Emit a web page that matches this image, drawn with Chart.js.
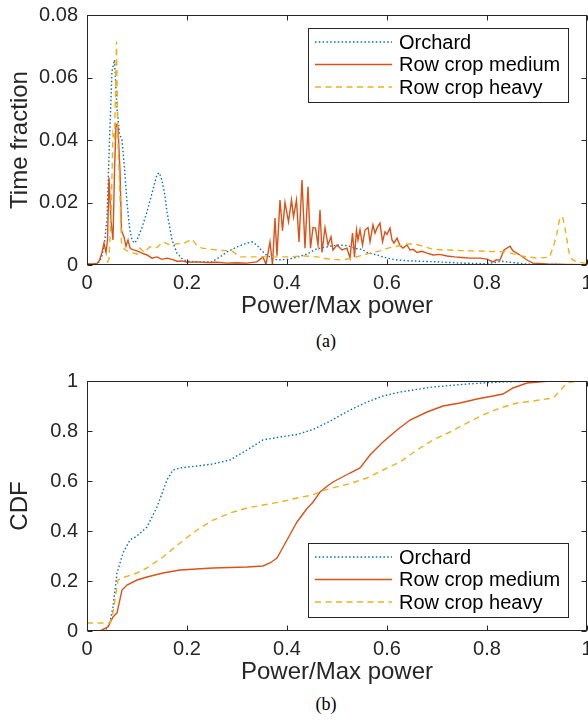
<!DOCTYPE html>
<html>
<head>
<meta charset="utf-8">
<script src="https://cdn.jsdelivr.net/npm/chart.js@4.4.0/dist/chart.umd.min.js"></script>
<style>
  html, body { margin: 0; padding: 0; background: #fff; }
  #fig { position: relative; width: 588px; height: 720px; background: #fff; overflow: hidden; }
  canvas { position: absolute; left: 0; }
  #cvA { top: 0; }
  #cvB { top: 366px; }
  .cap { position: absolute; width: 100px; text-align: center; line-height: 20px;
         font: 18px "Liberation Serif", "Times New Roman", serif; color: #000; }
</style>
</head>
<body>
<div id="fig">
  <canvas id="cvA" width="588" height="325"></canvas>
  <div class="cap" style="left:276px; top:331px;">(a)</div>
  <canvas id="cvB" width="588" height="324"></canvas>
  <div class="cap" style="left:276px; top:694px;">(b)</div>
</div>
<script>
const seriesNames = ['Orchard', 'Row crop medium', 'Row crop heavy'];
const seriesColors = ['#0072BD', '#D95319', '#EDB120'];

const xTickLabels = ['0', '0.2', '0.4', '0.6', '0.8', '1'];
const fracTickLabels = ['0', '0.02', '0.04', '0.06', '0.08'];
const cdfTickLabels = ['0', '0.2', '0.4', '0.6', '0.8', '1'];

// (a) time fraction per power bin
const orchardX = [0, 0.01, 0.02, 0.025, 0.03, 0.035, 0.04, 0.045, 0.05, 0.055, 0.06, 0.065, 0.07, 0.075,
  0.08, 0.085, 0.09, 0.095, 0.10, 0.11, 0.12, 0.13, 0.14, 0.145, 0.15, 0.155, 0.16, 0.17, 0.18, 0.19,
  0.20, 0.22, 0.25, 0.27, 0.28, 0.30, 0.32, 0.33, 0.34, 0.35, 0.36, 0.38, 0.40, 0.42, 0.44, 0.46,
  0.48, 0.50, 0.52, 0.54, 0.55, 0.56, 0.58, 0.60, 0.62, 0.65, 0.70, 0.75, 0.80, 0.83, 0.85, 0.88,
  0.92, 0.96, 1.0];
const orchardFrac = [0, 0, 0.0005, 0.001, 0.003, 0.007, 0.015, 0.04, 0.062, 0.0656, 0.05, 0.042, 0.040, 0.031,
  0.020, 0.012, 0.008, 0.007, 0.008, 0.012, 0.017, 0.023, 0.029, 0.0295, 0.027, 0.023, 0.017, 0.008, 0.0038, 0.002,
  0.0012, 0.001, 0.001, 0.003, 0.0042, 0.0058, 0.007, 0.0074, 0.0064, 0.0045, 0.003, 0.0016, 0.0018, 0.0025, 0.0035, 0.0052,
  0.0058, 0.0064, 0.0062, 0.0052, 0.005, 0.004, 0.0032, 0.0022, 0.0016, 0.0013, 0.001, 0.0006, 0.0004, 0.0012, 0.0008, 0.0003,
  0.0002, 0.0001, 0];

const mediumX = [0, 0.01, 0.02, 0.025, 0.03, 0.034, 0.038, 0.041, 0.044, 0.048, 0.052, 0.055, 0.058, 0.062,
  0.066, 0.069, 0.074, 0.078, 0.082, 0.086, 0.09, 0.10, 0.11, 0.12, 0.13, 0.14, 0.15, 0.16, 0.17, 0.18,
  0.19, 0.20, 0.22, 0.24, 0.26, 0.28, 0.30, 0.32, 0.34, 0.352, 0.358, 0.366, 0.371, 0.376, 0.38, 0.386,
  0.391, 0.396, 0.403, 0.409, 0.413, 0.419, 0.424, 0.43, 0.436, 0.442, 0.447, 0.452, 0.457, 0.462, 0.466,
  0.47, 0.476, 0.482, 0.488, 0.492, 0.5, 0.51, 0.52, 0.526, 0.531, 0.535, 0.539, 0.542, 0.546, 0.551,
  0.556, 0.562, 0.566, 0.572, 0.576, 0.58, 0.586, 0.591, 0.596, 0.6, 0.606, 0.61, 0.614, 0.62, 0.626,
  0.632, 0.64, 0.646, 0.652, 0.66, 0.67, 0.68, 0.692, 0.705, 0.72, 0.735, 0.75, 0.766, 0.786, 0.8,
  0.812, 0.818, 0.826, 0.834, 0.846, 0.852, 0.866, 0.88, 0.892, 0.92, 0.96, 1.0];
const mediumFrac = [0.0004, 0.0003, 0.0005, 0.0015, 0.004, 0.007, 0.004, 0.008, 0.028, 0.014, 0.008, 0.03, 0.045, 0.044,
  0.03, 0.011, 0.009, 0.006, 0.008, 0.0055, 0.005, 0.0045, 0.0038, 0.0032, 0.0022, 0.0026, 0.0018, 0.0022, 0.0018, 0.0012,
  0.0013, 0.0009, 0.001, 0.0008, 0.0009, 0.0006, 0.0007, 0.0006, 0.001, 0.0026, 0.0002, 0.0074, 0, 0.015, 0.003, 0.0208,
  0.011, 0.020, 0.0138, 0.0208, 0.0154, 0.0208, 0.0074, 0.0272, 0.0054, 0.025, 0.0054, 0.012, 0.0118, 0.0064, 0.0176,
  0.004, 0.012, 0.0064, 0.009, 0.0048, 0.0064, 0.0048, 0.0054, 0.0022, 0.0102, 0.0026, 0.0112, 0.008, 0.0112, 0.0064,
  0.0112, 0.012, 0.0074, 0.0128, 0.0102, 0.0118, 0.0134, 0.0074, 0.0106, 0.0098, 0.0118, 0.008, 0.007, 0.0086, 0.0062,
  0.0054, 0.0064, 0.0048, 0.005, 0.004, 0.0044, 0.0038, 0.0032, 0.0034, 0.0029, 0.0026, 0.0024, 0.0022, 0.0022, 0.0019,
  0.001, 0.0016, 0.0016, 0.0048, 0.006, 0.0045, 0.0032, 0.0016, 0.0006, 0.0003, 0.0002, 0.0001];

const heavyX = [0, 0.03, 0.04, 0.044, 0.048, 0.052, 0.055, 0.059, 0.062, 0.066, 0.069, 0.075, 0.08, 0.09,
  0.10, 0.106, 0.115, 0.125, 0.14, 0.152, 0.166, 0.18, 0.195, 0.21, 0.22, 0.23, 0.25, 0.265, 0.29, 0.306,
  0.32, 0.35, 0.40, 0.436, 0.46, 0.48, 0.51, 0.53, 0.546, 0.566, 0.586, 0.602, 0.62, 0.64, 0.655, 0.672,
  0.692, 0.72, 0.75, 0.78, 0.81, 0.84, 0.86, 0.88, 0.9, 0.925, 0.933, 0.94, 0.946, 0.952, 0.958, 0.964,
  0.97, 0.98, 1.0];
const heavyFrac = [0, 0, 0.0005, 0.002, 0.015, 0.042, 0.04, 0.0715, 0.039, 0.0218, 0.007, 0.005, 0.0045, 0.004,
  0.0035, 0.0054, 0.004, 0.0058, 0.0056, 0.0074, 0.0064, 0.0068, 0.007, 0.0083, 0.0062, 0.0054, 0.005, 0.0047, 0.0045, 0.0026,
  0.0026, 0.0026, 0.0026, 0.0029, 0.0026, 0.002, 0.0016, 0.0022, 0.0029, 0.0038, 0.0045, 0.0054, 0.006, 0.0067, 0.0067, 0.006,
  0.005, 0.0048, 0.0046, 0.0045, 0.0043, 0.0042, 0.0032, 0.0026, 0.0022, 0.0025, 0.006, 0.0102, 0.0154, 0.015, 0.01, 0.004,
  0.0018, 0.001, 0.0005];

// (b) cumulative distribution
const orchardCdfX = [0, 0.03, 0.04, 0.046, 0.052, 0.06, 0.072, 0.086, 0.10, 0.12, 0.14, 0.16, 0.172, 0.186, 0.22,
  0.252, 0.286, 0.32, 0.352, 0.386, 0.42, 0.452, 0.482, 0.526, 0.56, 0.592, 0.626, 0.692, 0.76, 0.826, 0.9, 1.0];
const orchardCdf = [0, 0, 0.01, 0.036, 0.096, 0.232, 0.312, 0.364, 0.38, 0.416, 0.496, 0.604, 0.644, 0.652, 0.66,
  0.668, 0.684, 0.724, 0.764, 0.776, 0.786, 0.806, 0.835, 0.884, 0.916, 0.94, 0.956, 0.976, 0.988, 0.996, 1.0, 1.0];

const mediumCdfX = [0, 0.026, 0.042, 0.052, 0.06, 0.07, 0.08, 0.1, 0.12, 0.152, 0.186, 0.252, 0.32, 0.352, 0.366,
  0.38, 0.4, 0.42, 0.44, 0.452, 0.466, 0.482, 0.492, 0.526, 0.546, 0.566, 0.592, 0.62, 0.646, 0.68, 0.712,
  0.746, 0.78, 0.812, 0.832, 0.852, 0.88, 0.926, 1.0];
const mediumCdf = [0, 0, 0.016, 0.056, 0.072, 0.164, 0.184, 0.204, 0.216, 0.232, 0.244, 0.252, 0.256, 0.26, 0.272,
  0.292, 0.364, 0.436, 0.49, 0.515, 0.556, 0.582, 0.596, 0.632, 0.652, 0.704, 0.756, 0.804, 0.844, 0.876, 0.9,
  0.912, 0.928, 0.94, 0.948, 0.972, 0.992, 1.0, 1.0];

const heavyCdfX = [0, 0.046, 0.052, 0.062, 0.076, 0.1, 0.12, 0.152, 0.186, 0.22, 0.252, 0.286, 0.32, 0.352, 0.386,
  0.42, 0.452, 0.472, 0.526, 0.56, 0.592, 0.626, 0.66, 0.692, 0.726, 0.76, 0.792, 0.826, 0.86, 0.892, 0.932,
  0.942, 0.96, 0.98, 1.0];
const heavyCdf = [0.032, 0.032, 0.072, 0.204, 0.216, 0.232, 0.252, 0.296, 0.352, 0.404, 0.444, 0.472, 0.492, 0.504, 0.516,
  0.532, 0.544, 0.562, 0.59, 0.612, 0.644, 0.676, 0.724, 0.764, 0.796, 0.832, 0.864, 0.892, 0.912, 0.92, 0.932,
  0.952, 0.992, 1.0, 1.0];

const AXIS = '#262626';
const FONT = '"Liberation Sans", Arial, Helvetica, sans-serif';
const lineDash = [[1.5, 2.3], [], [6, 4.5]];

const pts = (xs, ys) => xs.map((x, i) => ({ x, y: ys[i] }));

function makeDatasets(pairs) {
  return pairs.map(([xs, ys], i) => ({
    label: seriesNames[i],
    data: pts(xs, ys),
    borderColor: seriesColors[i],
    borderWidth: 1.4,
    borderDash: lineDash[i],
    pointRadius: 0,
    tension: 0,
    fill: false,
    order: 3 - i   // heavy drawn last, on top
  }));
}

// boxed axes with inward ticks on all four sides, plus a legend box inside the plot
function framePlugin(legendAt) {
  return {
    id: 'frame',
    afterDraw(chart) {
      const { ctx, chartArea: a, scales } = chart;
      ctx.save();
      ctx.strokeStyle = AXIS;
      ctx.lineWidth = 1;
      ctx.setLineDash([]);
      const L = Math.round(a.left) + 0.5, R = Math.round(a.right) - 0.5;
      const T = Math.round(a.top) + 0.5, B = Math.round(a.bottom) - 0.5;
      ctx.strokeRect(L, T, R - L, B - T);
      ctx.beginPath();
      scales.x.ticks.forEach(t => {
        const px = Math.round(scales.x.getPixelForValue(t.value)) + 0.5;
        ctx.moveTo(px, B); ctx.lineTo(px, B - 5);
        ctx.moveTo(px, T); ctx.lineTo(px, T + 5);
      });
      scales.y.ticks.forEach(t => {
        const py = Math.round(scales.y.getPixelForValue(t.value)) + 0.5;
        ctx.moveTo(L, py); ctx.lineTo(L + 5, py);
        ctx.moveTo(R, py); ctx.lineTo(R - 5, py);
      });
      ctx.stroke();

      const w = 260, h = 74;
      const lx = Math.round(a.right - 19 - w);
      const ly = Math.round(legendAt === 'top' ? a.top + 13 : a.bottom - 14 - h);
      ctx.fillStyle = '#fff';
      ctx.fillRect(lx, ly, w, h);
      ctx.strokeRect(lx + 0.5, ly + 0.5, w, h);
      const rows = [14, 36.5, 59];
      ctx.font = '20px ' + FONT;
      ctx.textBaseline = 'middle';
      chart.data.datasets.forEach((ds, i) => {
        const y = ly + rows[i];
        ctx.strokeStyle = ds.borderColor;
        ctx.lineWidth = ds.borderWidth;
        ctx.setLineDash(ds.borderDash);
        ctx.beginPath();
        ctx.moveTo(lx + 7, y); ctx.lineTo(lx + 84, y);
        ctx.stroke();
        ctx.setLineDash([]);
        ctx.fillStyle = '#000';
        ctx.fillText(ds.label, lx + 91, y + 1);
      });
      ctx.restore();
    }
  };
}

function makeChart(id, datasets, yMax, yStep, yLabels, yTitle, axisH, titlePadB, legendAt) {
  return new Chart(document.getElementById(id), {
    type: 'line',
    data: { datasets },
    options: {
      responsive: false,
      devicePixelRatio: 1,
      animation: false,
      events: [],
      layout: { padding: { top: 15, right: 1, bottom: 0, left: 0 } },
      plugins: { legend: { display: false }, tooltip: { enabled: false } },
      scales: {
        x: {
          type: 'linear', min: 0, max: 1,
          grid: { display: false, drawTicks: false },
          border: { display: false },
          ticks: {
            stepSize: 0.2, padding: 6, color: AXIS, maxRotation: 0, autoSkip: false,
            font: { family: FONT, size: 20 },
            callback: (v, i) => xTickLabels[i]
          },
          title: {
            display: true, text: 'Power/Max power', color: AXIS,
            font: { family: FONT, size: 24 }, padding: { top: 0, bottom: titlePadB }
          },
          afterFit: s => { s.height = axisH; s.paddingLeft = 0; s.paddingRight = 0; }
        },
        y: {
          min: 0, max: yMax,
          grid: { display: false, drawTicks: false },
          border: { display: false },
          ticks: {
            stepSize: yStep, padding: 9, color: AXIS, autoSkip: false,
            font: { family: FONT, size: 20 },
            callback: (v, i) => yLabels[i]
          },
          title: {
            display: true, text: yTitle, color: AXIS,
            font: { family: FONT, size: 24 }, padding: { top: 5.6, bottom: 0 }
          },
          afterFit: s => { s.width = 87; s.paddingTop = 0; s.paddingBottom = 0; }
        }
      }
    },
    plugins: [framePlugin(legendAt)]
  });
}

makeChart('cvA',
  makeDatasets([[orchardX, orchardFrac], [mediumX, mediumFrac], [heavyX, heavyFrac]]),
  0.08, 0.02, fracTickLabels, 'Time fraction', 60, 4.6, 'top');

makeChart('cvB',
  makeDatasets([[orchardCdfX, orchardCdf], [mediumCdfX, mediumCdf], [heavyCdfX, heavyCdf]]),
  1, 0.2, cdfTickLabels, 'CDF', 59, 3.6, 'bottom');
</script>
</body>
</html>
